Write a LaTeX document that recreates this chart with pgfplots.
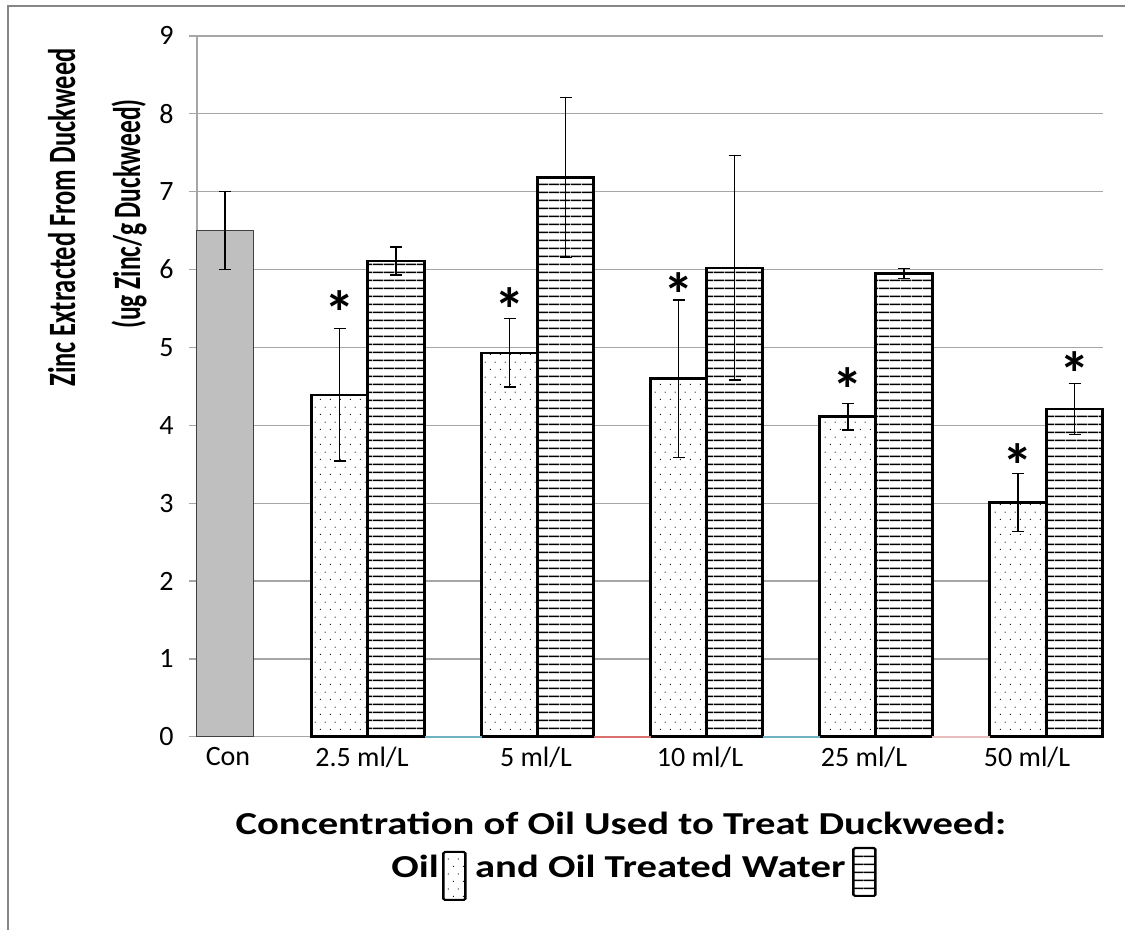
\documentclass[border=0pt]{standalone}
\usepackage{fontspec}
\setmainfont{Carlito}
\usepackage{graphicx}
\usepackage{pgfplots}
\pgfplotsset{compat=1.18}
\usetikzlibrary{patterns.meta}

\definecolor{gridgray}{HTML}{A6A6A6}
\definecolor{congray}{HTML}{BFBFBF}
\definecolor{framegray}{HTML}{868686}
\definecolor{segteal}{HTML}{6FB3C2}
\definecolor{segred}{HTML}{D9716E}
\definecolor{segpink}{HTML}{E8BDBD}

% sparse offset dots, like the Excel "5%" fill
\tikzdeclarepattern{name=sparsedots, type=uncolored,
  bounding box={(0pt,0pt) and (7.7pt,11.4pt)}, tile size={(7.7pt,11.4pt)},
  code={\fill (1.9pt,2.85pt) circle (0.5pt); \fill (5.75pt,8.55pt) circle (0.5pt);}}
% horizontal stripes
\tikzdeclarepattern{name=hstripes, type=uncolored,
  bounding box={(0pt,0pt) and (8pt,5.7pt)}, tile size={(8pt,5.7pt)},
  code={\fill (0pt,2.3pt) rectangle (8pt,3.4pt);}}

\newcommand{\swatch}[3]{\tikz[baseline=0pt]\draw[line width=1.5pt, rounded corners=1pt, fill=white, postaction={pattern=#1}] (0pt,#2) rectangle (13pt,#3);}

\begin{document}
\begin{tikzpicture}[x=0.75pt, y=0.75pt]
\useasboundingbox (0,0) rectangle (1125,930);
\draw[framegray, line width=1.5pt] (8,0) -- (8,924) -- (1125,924);

\begin{axis}[
    at={(197,248)}, anchor=south west,
    scale only axis, width=679.5pt, height=525.75pt,
    xmin=197, xmax=1103, ymin=0, ymax=9,
    clip=false,
    axis x line*=bottom, axis y line*=left,
    axis line style={gridgray, line width=1pt},
    ytick={0,1,...,9},
    ymajorgrids, grid style={gridgray, line width=1pt},
    tick align=outside, major tick length=6pt,
    tick style={gridgray, line width=1pt},
    xtick={228,362,536,700,864,1027},
    xticklabels={Con,2.5 ml/L,5 ml/L,10 ml/L,25 ml/L,50 ml/L},
    x tick style={draw=none},
    tick label style={font=\fontsize{21}{24}\selectfont},
    yticklabel style={xshift=-8pt},
    xticklabel style={yshift=2pt},
    /pgf/number format/assume math mode=true,
    error bars/y dir=both, error bars/y explicit,
    error bars/error bar style={black, line width=1pt},
    error bars/error mark options={rotate=90, mark size=4.5pt, line width=1pt, black},
]
% control
\addplot[ybar, bar width=56.5, bar shift=0pt, fill=congray, draw=black!75, line width=0.8pt]
    coordinates {(225,6.5) +- (0,0.5)};
% oil
\addplot[ybar, bar width=56.5, bar shift=0pt, draw=black, line width=2pt, fill=white,
    postaction={pattern=sparsedots}]
    coordinates {
      (339.5,4.39) +- (0,0.85)
      (509.5,4.93) +- (0,0.44)
      (678.5,4.60) +- (0,1.01)
      (848,4.11)   +- (0,0.17)
      (1018,3.01)  +- (0,0.37)
    };
% oil treated water
\addplot[ybar, bar width=56.5, bar shift=0pt, draw=black, line width=2pt, fill=white,
    postaction={pattern=hstripes}]
    coordinates {
      (396,6.11)    +- (0,0.18)
      (565.5,7.18)  +- (0,1.03)
      (734.5,6.02)  +- (0,1.44)
      (904,5.95)    +- (0,0.065)
      (1074.5,4.21) +- (0,0.33)
    };
% significance stars
\addplot[only marks, mark=none, nodes near coords={\textbf{*}},
    every node near coord/.style={font=\fontsize{46}{46}\selectfont\bfseries, anchor=center, yshift=-9.5pt}]
    coordinates {(339.5,5.61) (509.5,5.65) (678.5,5.84) (848,4.62) (1018,3.65) (1074.5,4.83)};
% stray coloured bits on the category axis
\addplot[segteal, line width=1.2pt] coordinates {(425,0) (482,0)};
\addplot[segred, line width=1.2pt] coordinates {(594,0) (651,0)};
\addplot[segteal, line width=1.2pt] coordinates {(763,0) (820,0)};
\addplot[segpink, line width=1.2pt] coordinates {(932,0) (990,0)};
\end{axis}

% y label
\node[rotate=90, anchor=base, inner sep=0pt, font=\fontsize{29}{32}\selectfont\bfseries]
  at (75,712.5) {\scalebox{0.685}[1]{Zinc Extracted From Duckweed}};
\node[rotate=90, anchor=base, inner sep=0pt, font=\fontsize{29}{32}\selectfont\bfseries]
  at (140,716) {\scalebox{0.66}[1]{(ug Zinc/g Duckweed)}};
% x label
\node[anchor=base, inner sep=0pt, font=\fontsize{24}{28}\selectfont\bfseries]
  at (621,95) {\scalebox{1.27}[1]{Concentration of Oil Used to Treat Duckweed:}};
\node[anchor=base, inner sep=0pt, font=\fontsize{24}{28}\selectfont\bfseries]
  at (634,52) {\scalebox{1.27}[1]{Oil\kern2pt\swatch{sparsedots}{-16.5pt}{19.5pt}\kern5pt and Oil Treated Water\kern4pt\swatch{hstripes}{-13.5pt}{22.5pt}}};
\end{tikzpicture}
\end{document}
